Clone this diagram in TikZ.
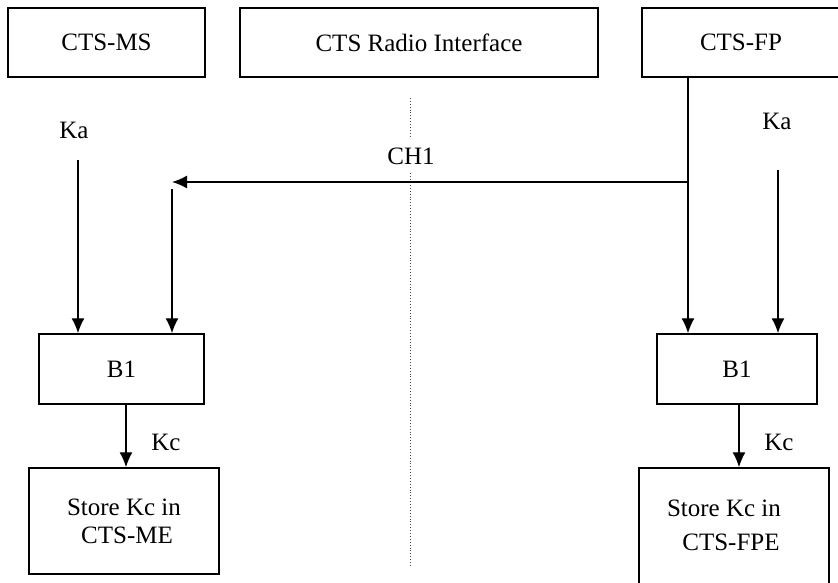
\documentclass[tikz,border=0pt]{standalone}
\usepackage{fontspec}
\setmainfont{Liberation Serif}
\usetikzlibrary{arrows.meta}
\begin{document}
\begin{tikzpicture}[x=1pt,y=-1pt,
  box/.style={draw,line width=1.5pt,rectangle,inner sep=0pt,font=\fontsize{25}{30}\selectfont,align=center},
  lbl/.style={font=\fontsize{25}{30}\selectfont,inner sep=1pt},
  arr/.style={line width=1.3pt,-{Latex[length=15pt,width=13pt]}},
  ln/.style={line width=1.3pt}]
\useasboundingbox (0,0) rectangle (838,583);
\clip (0,0) rectangle (838,583);
% top boxes
\node[box,minimum width=197,minimum height=69] (ms) at (106.5,42.5) {CTS-MS};
\node[box,minimum width=358,minimum height=69] (ri) at (419,42.5) {CTS Radio Interface};
\node[box,minimum width=204,minimum height=69] (fp) at (744,42.5) {\hspace*{-6pt}CTS-FP};
% dotted interface line
\coordinate (dTop) at (410,98);
\coordinate (dBot) at (410,565);
\draw[dotted,line width=0.9pt,black!70] (dTop) -- (dBot);
\node[lbl,fill=white,inner xsep=4pt,inner ysep=9pt] (ch1) at (411,156) {CH1};
% B1 boxes
\node[box,minimum width=165,minimum height=70] (b1L) at (121.5,369) {B1};
\node[box,minimum width=160,minimum height=70] (b1R) at (737,369) {B1};
% store boxes
\node[box,minimum width=190,minimum height=106] (stL) at (124,521) {Store Kc in\\[-2pt]\hspace*{6pt}CTS-ME};
\node[box,minimum width=190,minimum height=142] (stR) at (734,539) {};
\node[lbl,align=center] (stRt) at (724,525) {Store Kc in\\[4pt]\hspace*{14pt}CTS-FPE};
% Ka labels
\node[lbl] (kaL) at (74,130) {Ka};
\node[lbl] (kaR) at (777,121) {Ka};
% Kc labels
\node[lbl] (kcL) at (166,442) {Kc};
\node[lbl] (kcR) at (779,442) {Kc};
% connector coordinates
\coordinate (j) at (688,182);
\coordinate (chEnd) at (172,182);
\coordinate (cTop) at (172,189);
\coordinate (kaLs) at (78,160);
\coordinate (kaRs) at (778,170);
\coordinate (kcLx) at (126,0);
\coordinate (kcRx) at (739,0);
% connectors
\draw[arr] (fp.south -| j) -- (b1R.north -| j);
\draw[arr] (j) -- (chEnd);
\draw[arr] (cTop) -- (b1L.north -| cTop);
\draw[arr] (kaLs) -- (b1L.north -| kaLs);
\draw[arr] (kaRs) -- (b1R.north -| kaRs);
\draw[arr] (b1L.south -| kcLx) -- (stL.north -| kcLx);
\draw[arr] (b1R.south -| kcRx) -- (stR.north -| kcRx);
\end{tikzpicture}
\end{document}
